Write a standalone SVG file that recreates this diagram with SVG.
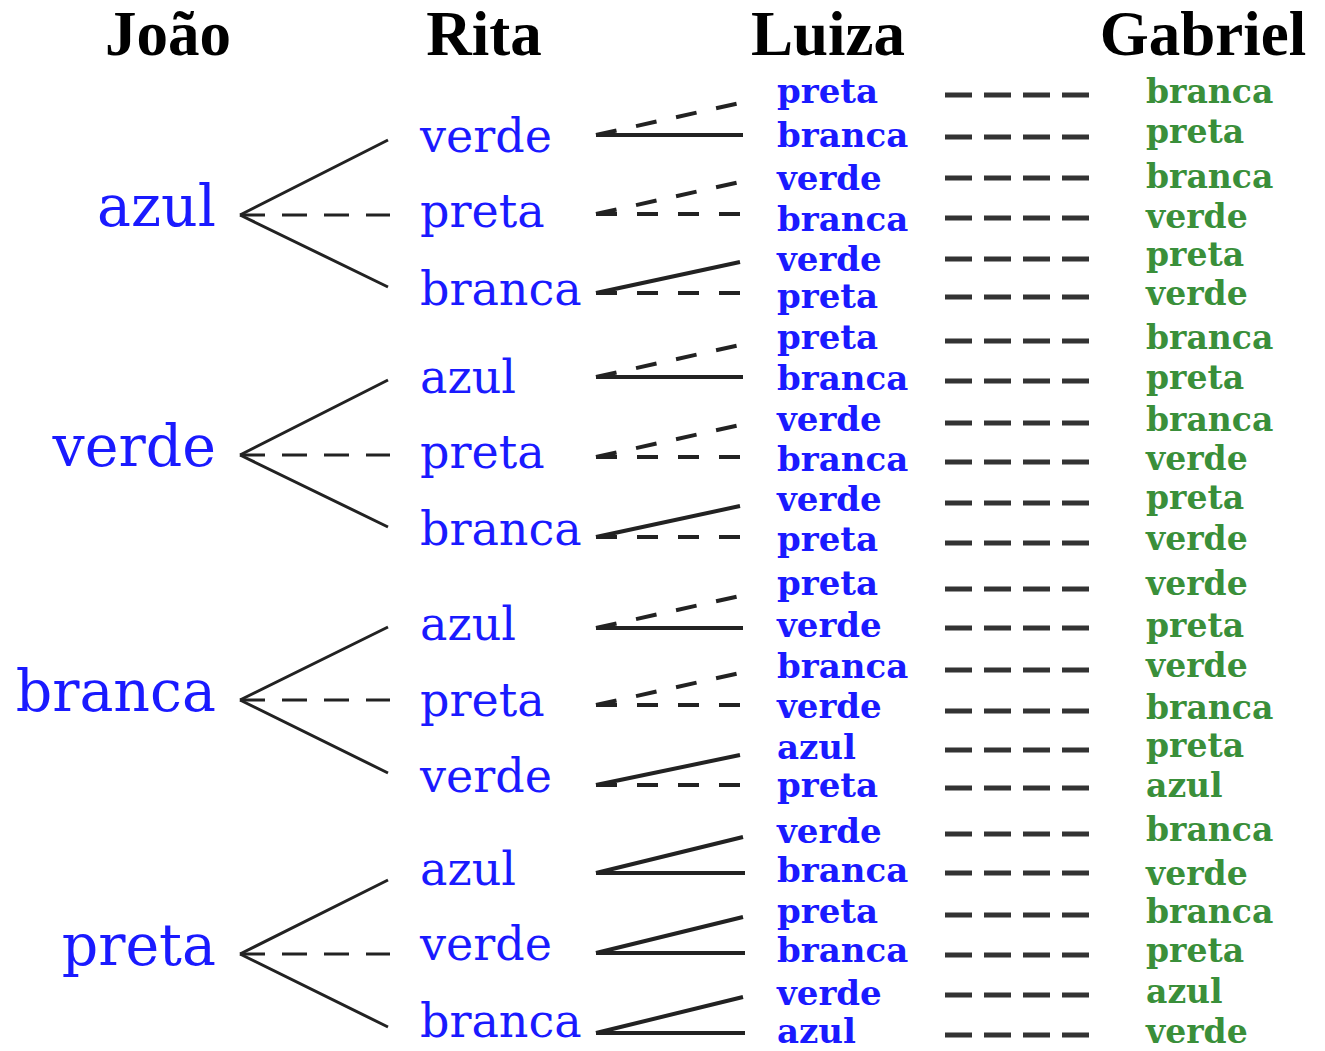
<svg xmlns="http://www.w3.org/2000/svg" width="1325" height="1051" viewBox="0 0 1325 1051">
<style>
.hdr{font-family:"Liberation Serif","Times New Roman",serif;font-weight:bold;font-size:63px;fill:#000;text-anchor:middle}
.j{font-family:"DejaVu Serif",serif;font-size:57px;fill:#1a1aff;text-anchor:end}
.r{font-family:"DejaVu Serif",serif;font-size:46px;fill:#1a1aff}
.l{font-family:"DejaVu Serif",serif;font-weight:bold;font-size:34px;fill:#1a1aff}
.g{font-family:"DejaVu Serif",serif;font-weight:bold;font-size:33px;fill:#3a8f3a}
.s{stroke:#222;stroke-width:3;fill:none}
.d{stroke-dasharray:25 17}
.s2{stroke:#222;stroke-width:4;fill:none}
.d2{stroke-dasharray:21 20}
.gd{stroke:#333;stroke-width:5;stroke-dasharray:27 12;fill:none}
</style>
<rect width="1325" height="1051" fill="#fff"/>
<g id="headers">
<text class="hdr" x="168" y="55">João</text>
<text class="hdr" x="484" y="55">Rita</text>
<text class="hdr" x="828" y="55">Luiza</text>
<text class="hdr" x="1203" y="55">Gabriel</text>
</g>
<g id="joao-azul"><text class="j" x="216" y="226">azul</text></g>
<g id="joao-verde"><text class="j" x="216" y="466">verde</text></g>
<g id="joao-branca"><text class="j" x="216" y="711">branca</text></g>
<g id="joao-preta"><text class="j" x="216" y="965">preta</text></g>

<g id="rita-1-verde"><text class="r" x="420" y="152">verde</text></g>
<g id="rita-1-preta"><text class="r" x="420" y="227">preta</text></g>
<g id="rita-1-branca"><text class="r" x="420" y="305">branca</text></g>
<g id="rita-2-azul"><text class="r" x="420" y="393">azul</text></g>
<g id="rita-2-preta"><text class="r" x="420" y="468">preta</text></g>
<g id="rita-2-branca"><text class="r" x="420" y="545">branca</text></g>
<g id="rita-3-azul"><text class="r" x="420" y="640">azul</text></g>
<g id="rita-3-preta"><text class="r" x="420" y="716">preta</text></g>
<g id="rita-3-verde"><text class="r" x="420" y="792">verde</text></g>
<g id="rita-4-azul"><text class="r" x="420" y="885">azul</text></g>
<g id="rita-4-verde"><text class="r" x="420" y="960">verde</text></g>
<g id="rita-4-branca"><text class="r" x="420" y="1037">branca</text></g>

<g id="luiza-1"><text class="l" x="777" y="103">preta</text></g>
<g id="luiza-2"><text class="l" x="777" y="147">branca</text></g>
<g id="luiza-3"><text class="l" x="777" y="190">verde</text></g>
<g id="luiza-4"><text class="l" x="777" y="231">branca</text></g>
<g id="luiza-5"><text class="l" x="777" y="271">verde</text></g>
<g id="luiza-6"><text class="l" x="777" y="308">preta</text></g>
<g id="luiza-7"><text class="l" x="777" y="349">preta</text></g>
<g id="luiza-8"><text class="l" x="777" y="390">branca</text></g>
<g id="luiza-9"><text class="l" x="777" y="431">verde</text></g>
<g id="luiza-10"><text class="l" x="777" y="471">branca</text></g>
<g id="luiza-11"><text class="l" x="777" y="511">verde</text></g>
<g id="luiza-12"><text class="l" x="777" y="551">preta</text></g>
<g id="luiza-13"><text class="l" x="777" y="595">preta</text></g>
<g id="luiza-14"><text class="l" x="777" y="637">verde</text></g>
<g id="luiza-15"><text class="l" x="777" y="678">branca</text></g>
<g id="luiza-16"><text class="l" x="777" y="718">verde</text></g>
<g id="luiza-17"><text class="l" x="777" y="759">azul</text></g>
<g id="luiza-18"><text class="l" x="777" y="797">preta</text></g>
<g id="luiza-19"><text class="l" x="777" y="843">verde</text></g>
<g id="luiza-20"><text class="l" x="777" y="882">branca</text></g>
<g id="luiza-21"><text class="l" x="777" y="923">preta</text></g>
<g id="luiza-22"><text class="l" x="777" y="962">branca</text></g>
<g id="luiza-23"><text class="l" x="777" y="1005">verde</text></g>
<g id="luiza-24"><text class="l" x="777" y="1043">azul</text></g>

<g id="gabriel-1"><text class="g" x="1146" y="103">branca</text></g>
<g id="gabriel-2"><text class="g" x="1146" y="143">preta</text></g>
<g id="gabriel-3"><text class="g" x="1146" y="188">branca</text></g>
<g id="gabriel-4"><text class="g" x="1146" y="228">verde</text></g>
<g id="gabriel-5"><text class="g" x="1146" y="266">preta</text></g>
<g id="gabriel-6"><text class="g" x="1146" y="305">verde</text></g>
<g id="gabriel-7"><text class="g" x="1146" y="349">branca</text></g>
<g id="gabriel-8"><text class="g" x="1146" y="389">preta</text></g>
<g id="gabriel-9"><text class="g" x="1146" y="431">branca</text></g>
<g id="gabriel-10"><text class="g" x="1146" y="470">verde</text></g>
<g id="gabriel-11"><text class="g" x="1146" y="509">preta</text></g>
<g id="gabriel-12"><text class="g" x="1146" y="550">verde</text></g>
<g id="gabriel-13"><text class="g" x="1146" y="595">verde</text></g>
<g id="gabriel-14"><text class="g" x="1146" y="637">preta</text></g>
<g id="gabriel-15"><text class="g" x="1146" y="677">verde</text></g>
<g id="gabriel-16"><text class="g" x="1146" y="719">branca</text></g>
<g id="gabriel-17"><text class="g" x="1146" y="757">preta</text></g>
<g id="gabriel-18"><text class="g" x="1146" y="797">azul</text></g>
<g id="gabriel-19"><text class="g" x="1146" y="841">branca</text></g>
<g id="gabriel-20"><text class="g" x="1146" y="885">verde</text></g>
<g id="gabriel-21"><text class="g" x="1146" y="923">branca</text></g>
<g id="gabriel-22"><text class="g" x="1146" y="962">preta</text></g>
<g id="gabriel-23"><text class="g" x="1146" y="1003">azul</text></g>
<g id="gabriel-24"><text class="g" x="1146" y="1043">verde</text></g>

<g id="connectors">
<path class="s" d="M240 215 L388 140 M240 215 L388 287"/>
<path class="s d" d="M240 215 H390"/>
<path class="s" d="M240 455 L388 380 M240 455 L388 527"/>
<path class="s d" d="M240 455 H390"/>
<path class="s" d="M240 700 L388 627 M240 700 L388 773"/>
<path class="s d" d="M240 700 H390"/>
<path class="s" d="M240 954 L388 880 M240 954 L388 1027"/>
<path class="s d" d="M240 954 H390"/>
<path class="s2 d2" d="M596 135 L740 103"/>
<path class="s2" d="M596 135 H743"/>
<path class="s2 d2" d="M596 214 L740 182"/>
<path class="s2 d2" d="M596 214 H743"/>
<path class="s2" d="M596 293 L740 262"/>
<path class="s2 d2" d="M596 293 H743"/>
<path class="s2 d2" d="M596 377 L740 345"/>
<path class="s2" d="M596 377 H743"/>
<path class="s2 d2" d="M596 457 L740 425"/>
<path class="s2 d2" d="M596 457 H743"/>
<path class="s2" d="M596 537 L740 506"/>
<path class="s2 d2" d="M596 537 H743"/>
<path class="s2 d2" d="M596 628 L740 596"/>
<path class="s2" d="M596 628 H743"/>
<path class="s2 d2" d="M596 705 L740 673"/>
<path class="s2 d2" d="M596 705 H743"/>
<path class="s2" d="M596 785 L740 755"/>
<path class="s2 d2" d="M596 785 H743"/>
<path class="s2" d="M596 873 L743 837 M596 873 H745"/>
<path class="s2" d="M596 953 L743 917 M596 953 H745"/>
<path class="s2" d="M596 1033 L743 997 M596 1033 H745"/>
<path class="gd" d="M945 95 H1089 M945 137 H1089 M945 178 H1089 M945 218 H1089 M945 259 H1089 M945 297 H1089 M945 341 H1089 M945 381 H1089 M945 423 H1089 M945 462 H1089 M945 503 H1089 M945 543 H1089 M945 589 H1089 M945 628 H1089 M945 670 H1089 M945 711 H1089 M945 750 H1089 M945 788 H1089 M945 834 H1089 M945 873 H1089 M945 915 H1089 M945 955 H1089 M945 995 H1089 M945 1035 H1089"/>
</g>
</svg>
